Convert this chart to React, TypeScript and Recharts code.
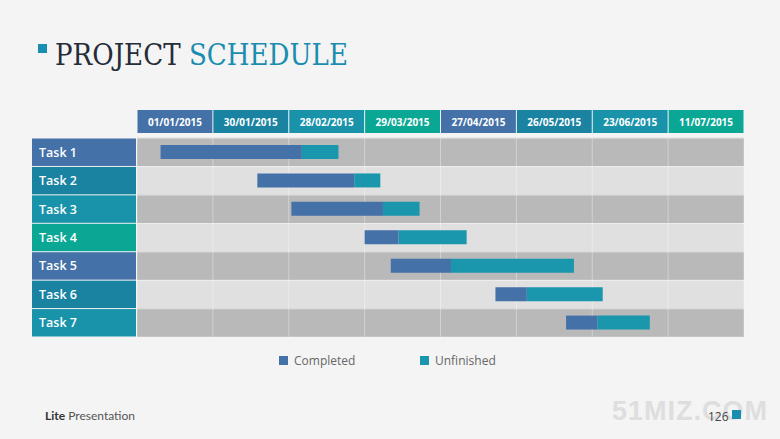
import React from 'react';
import { BarChart, Bar, XAxis, YAxis } from 'recharts';

const tasks = ['Task 1', 'Task 2', 'Task 3', 'Task 4', 'Task 5', 'Task 6', 'Task 7'];
const startDays = [9, 46, 59, 87, 97, 137, 164];
const completedDays = [54, 37, 35, 13, 23, 12, 12];
const unfinishedDays = [14, 10, 14, 26, 47, 29, 20];
const dateLabels = ['01/01/2015', '30/01/2015', '28/02/2015', '29/03/2015', '27/04/2015', '26/05/2015', '23/06/2015', '11/07/2015'];
const COL_DAYS = 29;
const seriesNames = ['Completed', 'Unfinished'];

const C_BLUE = '#4471a7';
const C_TBLUE = '#1a83a2';
const C_TEAL = '#1993aa';
const C_GREEN = '#0aa795';
const cellPalette = [C_BLUE, C_TBLUE, C_TEAL, C_GREEN];
const seriesColors = ['#4471a7', '#1a97ad'];

const data = tasks.map((task, i) => ({
  task,
  start: startDays[i],
  completed: completedDays[i],
  unfinished: unfinishedDays[i],
}));
const TOTAL_DAYS = dateLabels.length * COL_DAYS;
const colStarts = dateLabels.map((_, i) => i * COL_DAYS);
const gridLines = [...colStarts, TOTAL_DAYS];

const W = 780;
const H = 439;
const MARGIN = { top: 110, right: 36, bottom: 102, left: 32 };
const Y_W = 105;
const X_H = 28;
const PLOT_W = W - MARGIN.left - MARGIN.right - Y_W;
const PLOT_H = H - MARGIN.top - MARGIN.bottom - X_H;
const COL_W = PLOT_W / dateLabels.length;
const BAND = PLOT_H / tasks.length;

const HeaderTick = (props: any) => {
  const { x, payload } = props;
  const i = Math.round(payload.value / COL_DAYS);
  if (i >= dateLabels.length) return null;
  return (
    <g>
      <rect x={x + 0.5} y={MARGIN.top} width={COL_W - 1} height={23} fill={cellPalette[i % 4]} />
      <text
        x={x + COL_W / 2}
        y={MARGIN.top + 15.5}
        textAnchor="middle"
        fill="#ffffff"
        fontFamily="'Open Sans', sans-serif"
        fontWeight={700}
        fontSize={10}
      >
        {dateLabels[i]}
      </text>
    </g>
  );
};

const TaskTick = (props: any) => {
  const { y, payload } = props;
  const i = tasks.indexOf(payload.value);
  return (
    <g>
      <rect x={MARGIN.left} y={y - BAND / 2 + 0.5} width={Y_W - 1} height={BAND - 1} fill={cellPalette[i % 4]} />
      <text
        x={MARGIN.left + 7}
        y={y + 4.5}
        fill="#ffffff"
        fontFamily="'Open Sans', sans-serif"
        fontWeight={600}
        fontSize={12.5}
      >
        {payload.value}
      </text>
    </g>
  );
};

// Row stripe + column grid lines, drawn as the bar background (beneath the bars)
const RowBackground = (props: any) => {
  const { x, y, width, height, index } = props;
  if (x == null || y == null) return null;
  const cy = y + height / 2;
  const top = cy - BAND / 2;
  return (
    <g>
      <rect x={x} y={top} width={width} height={BAND} fill={index % 2 === 0 ? '#b9b9b9' : '#e0e0e0'} />
      <line x1={x} x2={x + width} y1={top + 0.5} y2={top + 0.5} stroke="#ffffff" strokeOpacity={0.45} />
      {gridLines.map((v) => {
        const lx = x + (v / TOTAL_DAYS) * width;
        return <line key={v} x1={lx} x2={lx} y1={top} y2={top + BAND} stroke="#ffffff" strokeOpacity={0.35} />;
      })}
    </g>
  );
};

export default function App() {
  return (
    <div style={{ position: 'absolute', left: 0, top: 0, width: W, height: H, background: '#f4f4f4', overflow: 'hidden' }}>
      <svg width={W} height={100} style={{ position: 'absolute', left: 0, top: 0 }}>
        <rect x={38} y={44} width={9} height={9} fill="#1a8db0" />
        <text x={55} y={65} fontFamily="'DejaVu Serif', serif" fontSize={29} textLength={293} lengthAdjust="spacingAndGlyphs">
          <tspan fill="#262c38">PROJECT </tspan>
          <tspan fill="#1a8db0">SCHEDULE</tspan>
        </text>
      </svg>

      <div style={{ position: 'absolute', left: 0, top: 0 }}>
        <BarChart width={W} height={H} data={data} layout="vertical" margin={MARGIN} barSize={14}>
          <XAxis
            type="number"
            orientation="top"
            domain={[0, TOTAL_DAYS]}
            ticks={colStarts}
            interval={0}
            height={X_H}
            axisLine={false}
            tickLine={false}
            tick={<HeaderTick />}
          />
          <YAxis
            type="category"
            dataKey="task"
            width={Y_W}
            axisLine={false}
            tickLine={false}
            tick={<TaskTick />}
            interval={0}
          />
          <Bar
            dataKey="start"
            stackId="g"
            fill="transparent"
            isAnimationActive={false}
            legendType="none"
            background={<RowBackground />}
          />
          <Bar dataKey="completed" stackId="g" fill={seriesColors[0]} isAnimationActive={false} />
          <Bar dataKey="unfinished" stackId="g" fill={seriesColors[1]} isAnimationActive={false} />
        </BarChart>
      </div>

      <div style={{ position: 'absolute', left: 279, top: 352, display: 'flex', fontFamily: "'Open Sans', sans-serif", fontSize: 12, color: '#666' }}>
        {seriesNames.map((n, i) => (
          <div key={n} style={{ display: 'flex', alignItems: 'center', width: 141 }}>
            <span style={{ display: 'inline-block', width: 9, height: 9, background: seriesColors[i], marginRight: 6 }} />
            <span>{n}</span>
          </div>
        ))}
      </div>

      <div style={{ position: 'absolute', left: 45, top: 408, fontFamily: 'Lato, sans-serif', fontSize: 12, color: '#555' }}>
        <span style={{ fontWeight: 700, color: '#333' }}>Lite</span> Presentation
      </div>
      <div style={{ position: 'absolute', left: 612, top: 396, fontFamily: "'Liberation Sans', Arial, sans-serif", fontWeight: 700, fontSize: 27, color: '#dedede', letterSpacing: 1 }}>
        51MIZ.COM
      </div>
      <div style={{ position: 'absolute', left: 708, top: 408, fontFamily: "'Open Sans', sans-serif", fontSize: 12, color: '#444' }}>
        126
      </div>
      <div style={{ position: 'absolute', left: 732, top: 410, width: 9, height: 9, background: '#1a8db0' }} />
    </div>
  );
}
